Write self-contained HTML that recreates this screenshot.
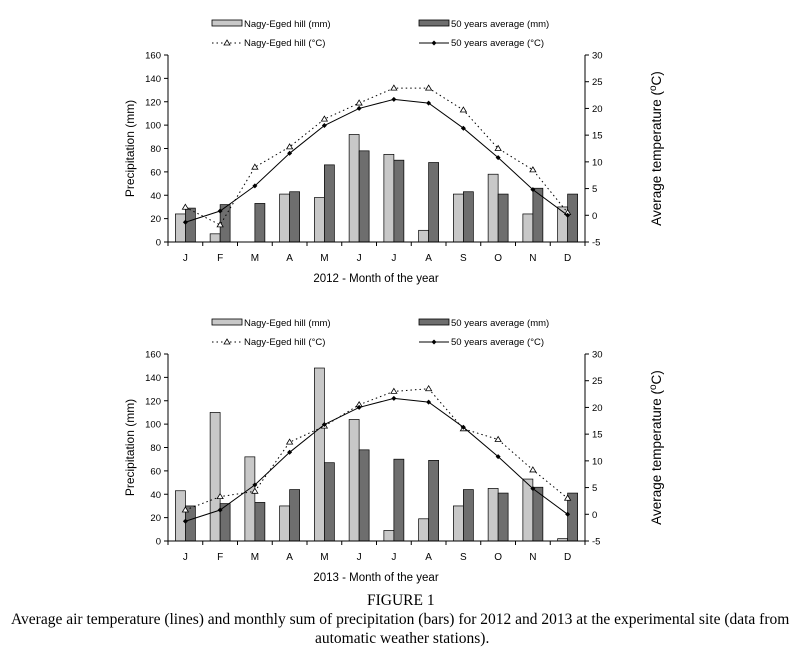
<!DOCTYPE html>
<html><head><meta charset="utf-8"><style>
body{margin:0;background:#fff;width:804px;height:660px;overflow:hidden;position:relative}
svg{position:absolute;left:0;top:0}
.cap{position:absolute;font-family:"Liberation Serif",serif;font-size:15.5px;line-height:18px;color:#000;white-space:nowrap}
</style></head><body>
<svg id="chart" width="804" height="600" font-family="Liberation Sans, sans-serif"></svg>
<div class="cap" style="left:367px;top:592px">FIGURE 1</div>
<div class="cap" style="left:11px;top:611px">Average air temperature (lines) and monthly sum of precipitation (bars) for 2012 and 2013 at the experimental site (data from</div>
<div class="cap" style="left:315px;top:630px">automatic weather stations).</div>
<script>
const months=["J","F","M","A","M","J","J","A","S","O","N","D"];
const precipTicks=[0,20,40,60,80,100,120,140,160];
const tempTicks=[-5,0,5,10,15,20,25,30];
const precip2012=[24,7,0,41,38,92,75,10,41,58,24,30];
const avgPrecip2012=[29,32,33,43,66,78,70,68,43,41,46,41];
const temp2012=[1.5,-1.8,9,12.8,18,21,23.8,23.8,19.7,12.5,8.5,0.5];
const avgTemp2012=[-1.3,0.8,5.5,11.6,16.8,20,21.7,21,16.3,10.8,4.8,0];
const precip2013=[43,110,72,30,148,104,9,19,30,45,53,2];
const avgPrecip2013=[30,32,33,44,67,78,70,69,44,41,46,41];
const temp2013=[0.8,3.3,4.3,13.5,16.5,20.5,23,23.5,16,14,8.3,3];
const avgTemp2013=[-1.3,0.8,5.5,11.6,16.8,20,21.7,21,16.3,10.8,4.8,0];

const svg=document.getElementById('chart');
const NS='http://www.w3.org/2000/svg';
function mk(tag,attrs,parent,text){const e=document.createElementNS(NS,tag);for(const k in attrs)e.setAttribute(k,attrs[k]);if(text!==undefined)e.textContent=text;(parent||svg).appendChild(e);return e;}

function drawChart(oy,year,pr,apr,tp,atp){
  const L=168,R=585,Y0=oy+242,Y1=oy+55;
  const g=mk('g',{});
  
  
  const cw=(R-L)/12;
  const x=i=>L+cw*(i+0.5);
  const yP=v=>Y0-(v/160)*(Y0-Y1);
  const yT=v=>Y0-((v+5)/35)*(Y0-Y1);
  const lg=mk('g',{},g);
  
  
  mk('rect',{x:212,y:oy+20,width:30,height:6,fill:'#c8c8c8',stroke:'#000','stroke-width':0.8},lg);
  mk('text',{x:244,y:oy+27,'font-size':9.5},lg,'Nagy-Eged hill (mm)');
  mk('rect',{x:419,y:oy+20,width:30,height:6,fill:'#6e6e6e',stroke:'#000','stroke-width':0.8},lg);
  mk('text',{x:451,y:oy+27,'font-size':9.5},lg,'50 years  average (mm)');
  mk('line',{x1:212,y1:oy+43,x2:242,y2:oy+43,stroke:'#000','stroke-dasharray':'1.5,3'},lg);
  mk('path',{d:`M227 ${oy+40} l3 5 h-6 z`,fill:'#fff',stroke:'#000','stroke-width':0.8},lg);
  mk('text',{x:244,y:oy+46,'font-size':9.5},lg,'Nagy-Eged hill (°C)');
  mk('line',{x1:419,y1:oy+43,x2:449,y2:oy+43,stroke:'#000'},lg);
  mk('path',{d:`M434 ${oy+40.5} l2.5 2.5 l-2.5 2.5 l-2.5 -2.5 z`,fill:'#000'},lg);
  mk('text',{x:451,y:oy+46,'font-size':9.5},lg,'50 years  average (°C)');
  pr.forEach((v,i)=>{const r=mk('rect',{x:x(i)-10,y:yP(v),width:10,height:Y0-yP(v),fill:'#c8c8c8',stroke:'#000','stroke-width':0.7},g);
    
    });
  apr.forEach((v,i)=>{const r=mk('rect',{x:x(i),y:yP(v),width:10,height:Y0-yP(v),fill:'#6e6e6e',stroke:'#000','stroke-width':0.7},g);
    
    });
  mk('line',{x1:L,y1:Y1,x2:L,y2:Y0,stroke:'#000'},g);
  mk('line',{x1:R,y1:Y1,x2:R,y2:Y0,stroke:'#000'},g);
  mk('line',{x1:L,y1:Y0,x2:R,y2:Y0,stroke:'#000'},g);
  precipTicks.forEach(v=>{mk('line',{x1:L-4,y1:yP(v),x2:L,y2:yP(v),stroke:'#000'},g);
    mk('text',{x:L-7,y:yP(v)+3.5,'font-size':9.5,'text-anchor':'end'},g,v);});
  tempTicks.forEach(v=>{mk('line',{x1:R,y1:yT(v),x2:R+4,y2:yT(v),stroke:'#000'},g);
    mk('text',{x:R+7,y:yT(v)+3.5,'font-size':9.5},g,v);});
  for(let i=0;i<=12;i++)mk('line',{x1:L+cw*i,y1:Y0,x2:L+cw*i,y2:Y0+4,stroke:'#000'},g);
  months.forEach((m,i)=>mk('text',{x:x(i),y:Y0+19,'font-size':10,'text-anchor':'middle'},g,m));
  const xt=mk('text',{x:376,y:Y0+40,'font-size':11.5,'text-anchor':'middle'},g,year+' - Month of the year');
  
  
  const yt=mk('text',{transform:`translate(134,${(Y0+Y1)/2}) rotate(-90)`,'font-size':12,'text-anchor':'middle'},g,'Precipitation (mm)');
  
  
  const yr=mk('text',{transform:`translate(661,${(Y0+Y1)/2}) rotate(-90)`,'font-size':13.5,'text-anchor':'middle'},g);
  
  
  yr.innerHTML='Average temperature (<tspan dy="-5" font-size="10">o</tspan><tspan dy="5">C)</tspan>';
  const l1=mk('polyline',{points:tp.map((v,i)=>x(i)+','+yT(v)).join(' '),fill:'none',stroke:'#000','stroke-dasharray':'1.5,3'},g);
  
  
  tp.forEach((v,i)=>mk('path',{d:`M${x(i)} ${yT(v)-3} l3 5 h-6 z`,fill:'#fff',stroke:'#000','stroke-width':0.8},g));
  const l2=mk('polyline',{points:atp.map((v,i)=>x(i)+','+yT(v)).join(' '),fill:'none',stroke:'#000'},g);
  
  
  atp.forEach((v,i)=>mk('path',{d:`M${x(i)} ${yT(v)-2.5} l2.5 2.5 l-2.5 2.5 l-2.5 -2.5 z`,fill:'#000'},g));
}
drawChart(0,2012,precip2012,avgPrecip2012,temp2012,avgTemp2012);
drawChart(299,2013,precip2013,avgPrecip2013,temp2013,avgTemp2013);
</script>
</body></html>
